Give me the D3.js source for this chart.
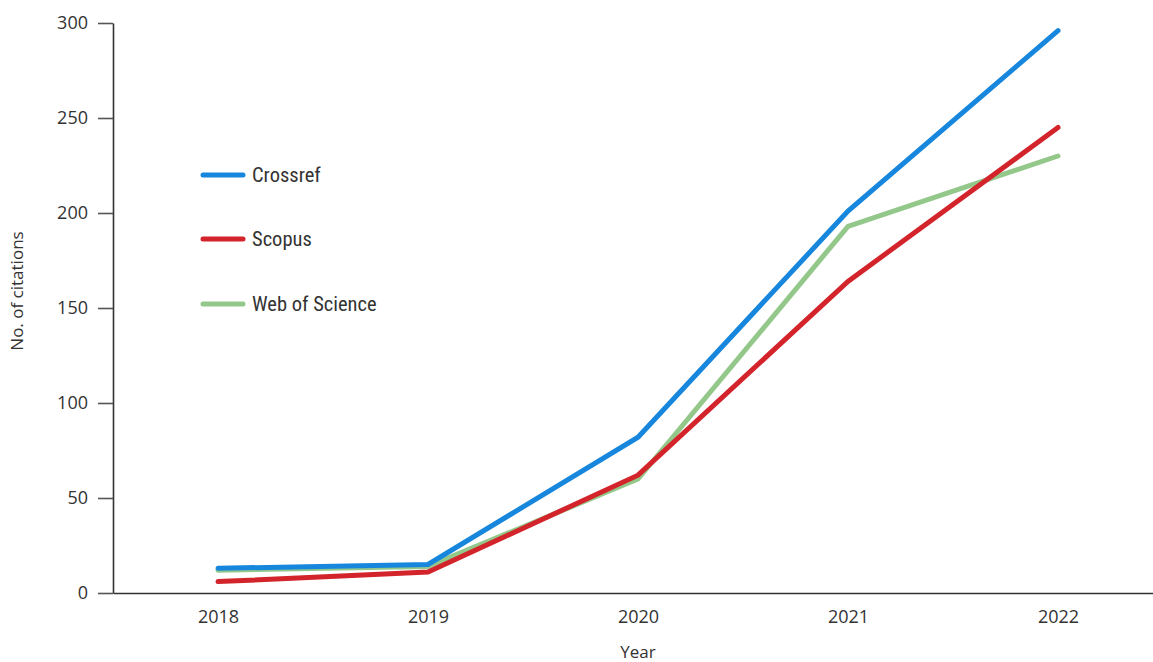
<!DOCTYPE html>
<html>
<head>
<meta charset="utf-8">
<script src="https://cdn.jsdelivr.net/npm/d3@7"></script>
<style>
  html, body { margin: 0; padding: 0; background: #fff; }
  svg { display: block; }
  text { font-family: "Open Sans", "Noto Sans", sans-serif; fill: #333; }
</style>
</head>
<body>
<svg id="chart" width="1153" height="662"></svg>
<script>
const years = ["2018", "2019", "2020", "2021", "2022"];
const crossref = [13, 15, 82, 201, 296];
const scopus = [6, 11, 62, 164, 245];
const webOfScience = [12, 14, 60, 193, 230];
const yTicks = [0, 50, 100, 150, 200, 250, 300];
const seriesNames = ["Crossref", "Scopus", "Web of Science"];
const seriesColors = ["#1787dd", "#d4242b", "#93c88a"];

const series = [
  { name: seriesNames[0], values: crossref, color: seriesColors[0] },
  { name: seriesNames[1], values: scopus, color: seriesColors[1] },
  { name: seriesNames[2], values: webOfScience, color: seriesColors[2] }
];

const svg = d3.select("#chart");
const mLeft = 113, mRight = 1163, mTop = 23, mBottom = 593;

const x = d3.scalePoint().domain(years).range([mLeft, mRight]).padding(0.5);
const y = d3.scaleLinear().domain([0, 300]).range([mBottom, mTop]);

// Y axis
const yAxis = svg.append("g")
  .attr("transform", `translate(${mLeft},0)`)
  .call(d3.axisLeft(y).tickValues(yTicks).tickSize(15).tickPadding(10).tickSizeOuter(0));
yAxis.select(".domain").attr("stroke", "#333").attr("stroke-width", 1.6);
yAxis.selectAll(".tick line").attr("stroke", "#555").attr("stroke-width", 1.6);
yAxis.selectAll(".tick text").style("font-size", "18px").style("font-family", "'Open Sans', sans-serif").attr("fill", "#333");

// X axis
const xAxis = svg.append("g")
  .attr("transform", `translate(0,${mBottom})`)
  .call(d3.axisBottom(x).tickSize(0).tickPadding(17).tickSizeOuter(0));
xAxis.select(".domain").attr("stroke", "#333").attr("stroke-width", 1.6);
xAxis.selectAll(".tick text").style("font-size", "18px").style("font-family", "'Open Sans', sans-serif").attr("fill", "#333");

// Axis titles
svg.append("text")
  .attr("x", x("2020"))
  .attr("y", 658)
  .attr("text-anchor", "middle")
  .style("font-size", "17px")
  .text("Year");

svg.append("text")
  .attr("transform", `translate(23,${(mTop + mBottom) / 2 - 17}) rotate(-90)`)
  .attr("text-anchor", "middle")
  .style("font-size", "17px")
  .text("No. of citations");

// Lines
const line = d3.line()
  .x((d, i) => x(years[i]))
  .y(d => y(d));

const drawOrder = [2, 0, 1];
drawOrder.forEach(k => {
  const s = series[k];
  svg.append("path")
    .datum(s.values)
    .attr("fill", "none")
    .attr("stroke", s.color)
    .attr("stroke-width", 5)
    .attr("stroke-linecap", "round")
    .attr("stroke-linejoin", "miter")
    .attr("d", line);
});

// Legend
const legendY = [175, 239, 304];
series.forEach((s, i) => {
  svg.append("line")
    .attr("x1", 203).attr("x2", 243)
    .attr("y1", legendY[i]).attr("y2", legendY[i])
    .attr("stroke", s.color)
    .attr("stroke-width", 5)
    .attr("stroke-linecap", "round");
  svg.append("text")
    .attr("x", 252)
    .attr("y", legendY[i])
    .attr("dy", "0.35em")
    .style("font-size", "20.5px")
    .style("font-family", "'Liberation Sans Narrow', 'Roboto Condensed', 'Noto Sans', sans-serif")
    .text(s.name);
});
</script>
</body>
</html>
